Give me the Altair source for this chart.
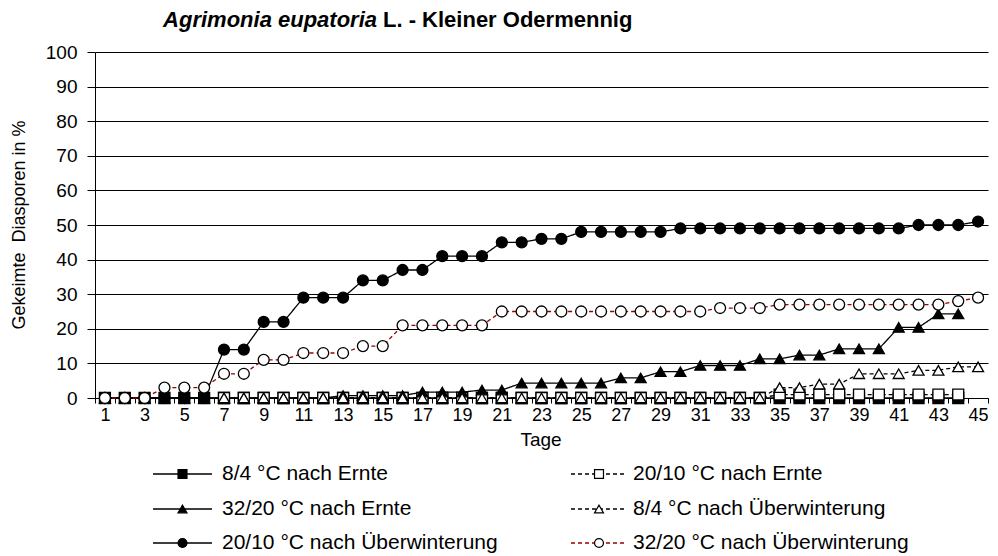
import altair as alt
import pandas as pd

# ---------------- data ----------------
days = [1, 2, 3, 4, 5, 6, 7, 8, 9, 10, 11, 12, 13, 14, 15, 16, 17, 18, 19, 20,
        21, 22, 23, 24, 25, 26, 27, 28, 29, 30, 31, 32, 33, 34, 35, 36, 37, 38, 39, 40,
        41, 42, 43, 44, 45]

series_names = [
    "8/4 °C nach Ernte",
    "20/10 °C nach Ernte",
    "32/20 °C nach Ernte",
    "8/4 °C nach Überwinterung",
    "20/10 °C nach Überwinterung",
    "32/20 °C nach Überwinterung",
]

N = None
s_84_ernte = [0, 0, 0, 0, 0, 0, 0, 0, 0, 0, 0, 0, 0, 0, 0, 0, 0, 0, 0, 0,
              0, 0, 0, 0, 0, 0, 0, 0, 0, 0, 0, 0, 0, 0, 0, 0, 0, 0, 0, 0,
              0, 0, 0, 0, N]
s_2010_ernte = [N, N, N, N, N, N, 0, 0, 0, 0, 0, 0, 0, 0, 0, 0, 0, 0, 0, 0,
                0, 0, 0, 0, 0, 0, 0, 0, 0, 0, 0, 0, 0, 0, 1, 1, 1, 1, 1, 1,
                1, 1, 1, 1, N]
s_3220_ernte = [0, 0, 0, 0, 0, 0, 0, 0, 0, 0, 0, 0, 0.7, 0.7, 0.7, 0.7, 1.7, 1.7, 1.7, 2.3,
                2.3, 4.3, 4.3, 4.3, 4.3, 4.3, 5.8, 5.8, 7.6, 7.6, 9.4, 9.4, 9.4, 11.3, 11.3, 12.4, 12.4, 14.2, 14.2, 14.2,
                20.4, 20.4, 24.3, 24.3, N]
s_84_ueber = [N, N, N, N, N, N, 0, 0, 0, 0, 0, 0, 0, 0, 0, 0, 0, 0, 0, 0,
              0, 0, 0, 0, 0, 0, 0, 0, 0, 0, 0, 0, 0, 0, 3, 3, 4, 4, 7, 7,
              7, 8, 8, 9, 9]
s_2010_ueber = [0, 0, 0, 0, 0, 0, 14, 14, 22, 22, 29, 29, 29, 34, 34, 37, 37, 41, 41, 41,
                45, 45, 46, 46, 48, 48, 48, 48, 48, 49, 49, 49, 49, 49, 49, 49, 49, 49, 49, 49,
                49, 50, 50, 50, 51]
s_3220_ueber = [0, 0, 0, 3, 3, 3, 7, 7, 11, 11, 13, 13, 13, 15, 15, 21, 21, 21, 21, 21,
                25, 25, 25, 25, 25, 25, 25, 25, 25, 25, 25, 26, 26, 26, 27, 27, 27, 27, 27, 27,
                27, 27, 27, 28, 29]

all_series = [s_84_ernte, s_2010_ernte, s_3220_ernte, s_84_ueber, s_2010_ueber, s_3220_ueber]

title_italic = "Agrimonia eupatoria"
title_rest = "L. - Kleiner Odermennig"
y_title = "Gekeimte \u00a0Diasporen in %"
x_title = "Tage"
y_ticks = [0, 10, 20, 30, 40, 50, 60, 70, 80, 90, 100]

# ---------------- tables ----------------
rows = []
for name, vals in zip(series_names, all_series):
    for d, v in zip(days, vals):
        if v is not None:
            rows.append({"series": name, "day": d, "value": v})
df = pd.DataFrame(rows)

leg_rows = []
col_line = [(58, 117), (476, 532)]
col_text = [127, 538]
row_y = [422, 457, 491]
for i, name in enumerate(series_names):
    c, r = i % 2, i // 2
    leg_rows.append({"series": name, "x1": col_line[c][0], "x2": col_line[c][1],
                     "mx": (col_line[c][0] + col_line[c][1]) / 2, "tx": col_text[c], "ly": row_y[r]})
leg = pd.DataFrame(leg_rows)

FONT = "Liberation Sans"

color_scale = alt.Scale(domain=series_names, range=["black", "black", "black", "black", "black", "#990000"])
dash_scale = alt.Scale(domain=series_names, range=[[1, 0], [4, 3], [1, 0], [4, 3], [1, 0], [4, 3]])
shape_scale = alt.Scale(domain=series_names, range=["square", "square", "triangle-up", "triangle-up", "circle", "circle"])
fill_scale = alt.Scale(domain=series_names, range=["black", "white", "black", "white", "black", "white"])
size_scale = alt.Scale(domain=series_names, range=[120, 120, 140, 140, 170, 170])

x_enc = alt.X(
    "day:O",
    scale=alt.Scale(type="band", domain=days, paddingInner=0, paddingOuter=0),
    bandPosition=0.5,
    axis=alt.Axis(
        title=None, labelAngle=0, tickBand="extent", tickSize=5, tickColor="black",
        domainColor="black", labelFontSize=18, labelFont=FONT, labelColor="black",
        labelPadding=3, grid=False,
        labelExpr="datum.value % 2 == 1 ? datum.label : ''",
    ),
)
y_enc = alt.Y(
    "value:Q",
    scale=alt.Scale(domain=[0, 100], nice=False),
    axis=alt.Axis(
        title=None, values=y_ticks, grid=True, gridColor="black", gridWidth=1,
        domainColor="black", tickColor="black", tickSize=8, labelFontSize=19,
        labelFont=FONT, labelColor="black", labelPadding=10,
    ),
)

base = alt.Chart(df)

lines = base.mark_line(strokeWidth=1.3).encode(
    x=x_enc, y=y_enc,
    color=alt.Color("series:N", scale=color_scale, legend=None),
    strokeDash=alt.StrokeDash("series:N", scale=dash_scale, legend=None),
)

points = base.mark_point(filled=False, opacity=1, strokeWidth=1.3).encode(
    x=x_enc, y=y_enc,
    shape=alt.Shape("series:N", scale=shape_scale, legend=None),
    fill=alt.Fill("series:N", scale=fill_scale, legend=None),
    size=alt.Size("series:N", scale=size_scale, legend=None),
    stroke=alt.value("black"),
)

leg_base = alt.Chart(leg)
leg_lines = leg_base.mark_rule(strokeWidth=1.3).encode(
    x=alt.X("x1:Q", scale=None, axis=None), x2="x2:Q",
    y=alt.Y("ly:Q", scale=None, axis=None),
    color=alt.Color("series:N", scale=color_scale, legend=None),
    strokeDash=alt.StrokeDash("series:N", scale=dash_scale, legend=None),
)
leg_points = leg_base.mark_point(filled=False, opacity=1, strokeWidth=1.2).encode(
    x=alt.X("mx:Q", scale=None, axis=None),
    y=alt.Y("ly:Q", scale=None, axis=None),
    shape=alt.Shape("series:N", scale=shape_scale, legend=None),
    fill=alt.Fill("series:N", scale=fill_scale, legend=None),
    size=alt.value(80),
    stroke=alt.value("black"),
)
leg_text = leg_base.mark_text(align="left", baseline="middle", fontSize=21, font=FONT, color="black").encode(
    x=alt.X("tx:Q", scale=None, axis=None),
    y=alt.Y("ly:Q", scale=None, axis=None),
    text="series:N",
)

t1 = alt.Chart(pd.DataFrame({"t": [title_italic]})).mark_text(
    align="right", baseline="middle", fontSize=22, font=FONT, fontWeight="bold", fontStyle="italic", color="black"
).encode(text="t:N", x=alt.value(282), y=alt.value(-32))
t2 = alt.Chart(pd.DataFrame({"t": [title_rest]})).mark_text(
    align="left", baseline="middle", fontSize=22, font=FONT, fontWeight="bold", color="black"
).encode(text="t:N", x=alt.value(288), y=alt.value(-32))

yt = alt.Chart(pd.DataFrame({"t": [y_title]})).mark_text(
    align="center", baseline="middle", fontSize=18, font=FONT, angle=270, color="black"
).encode(text="t:N", x=alt.value(-75), y=alt.value(173))
xt = alt.Chart(pd.DataFrame({"t": [x_title]})).mark_text(
    align="center", baseline="middle", fontSize=19, font=FONT, color="black"
).encode(text="t:N", x=alt.value(446), y=alt.value(42 + 346))

chart = alt.layer(lines, points, leg_lines, leg_points, leg_text, t1, t2, yt, xt).properties(
    width=893, height=346,
    autosize=alt.AutoSizeParams(type="none"),
    padding={"left": 87, "top": 44, "right": 2, "bottom": 158},
).configure_view(stroke=None)

chart.save("out.html", embed_options={"renderer": "svg", "actions": False})
